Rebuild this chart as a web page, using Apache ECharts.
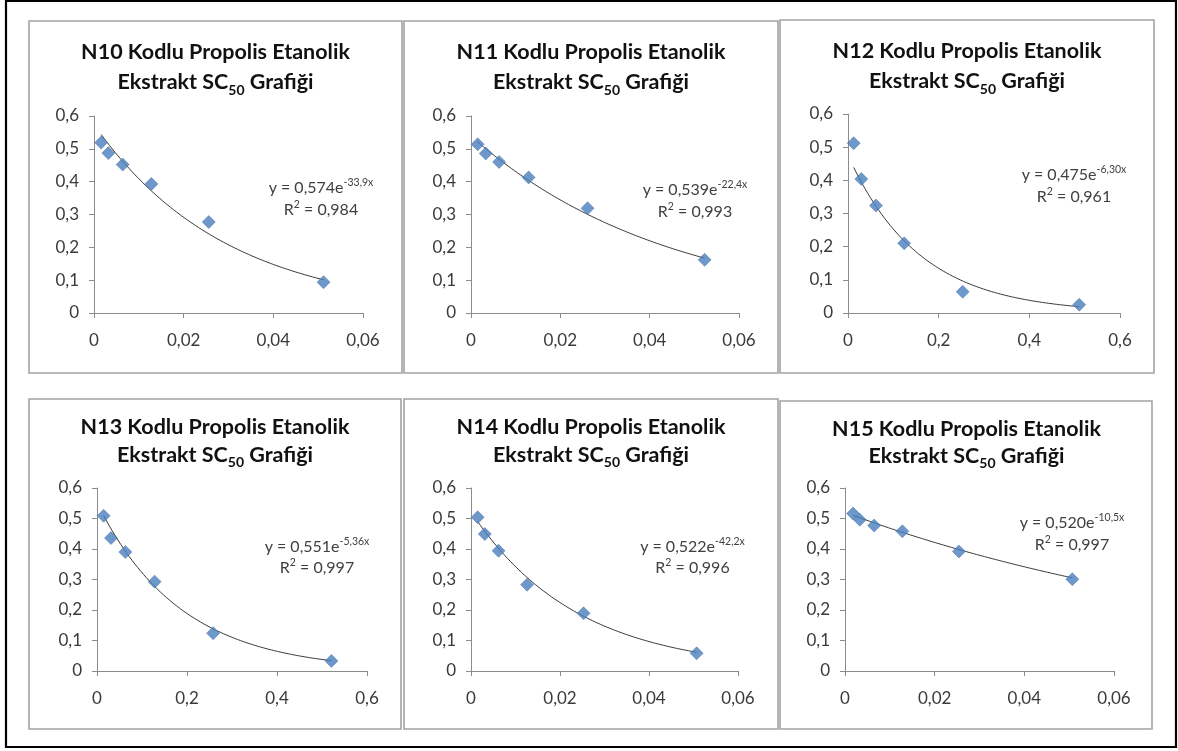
<!DOCTYPE html>
<html>
<head>
<meta charset="utf-8">
<script src="https://cdn.jsdelivr.net/npm/echarts@6/dist/echarts.min.js"></script>
<style>
html,body{margin:0;padding:0;background:#fff;}
#c{width:1178px;height:751px;}
</style>
</head>
<body>
<div id="c"></div>
<script>
// ---- data ----
const panelCodes = ['N10', 'N11', 'N12', 'N13', 'N14', 'N15'];
const xN10 = [0.0016, 0.0032, 0.0064, 0.0128, 0.0256, 0.0512];
const yN10 = [0.519, 0.487, 0.452, 0.393, 0.277, 0.094];
const xN11 = [0.0015, 0.0033, 0.0063, 0.0129, 0.0261, 0.0523];
const yN11 = [0.514, 0.486, 0.460, 0.413, 0.319, 0.162];
const xN12 = [0.0125, 0.0294, 0.0617, 0.124, 0.253, 0.51];
const yN12 = [0.512, 0.404, 0.324, 0.210, 0.064, 0.025];
const xN13 = [0.0148, 0.0311, 0.063, 0.128, 0.258, 0.521];
const yN13 = [0.509, 0.436, 0.390, 0.293, 0.124, 0.033];
const xN14 = [0.0015, 0.0031, 0.0062, 0.0126, 0.0253, 0.0507];
const yN14 = [0.504, 0.449, 0.394, 0.283, 0.189, 0.058];
const xN15 = [0.0018, 0.0033, 0.0065, 0.0128, 0.0254, 0.0507];
const yN15 = [0.516, 0.496, 0.477, 0.458, 0.392, 0.301];

// exponential trendline coefficients (y = a * e^(b x)) shown on the chart
const trendA = [0.574, 0.539, 0.475, 0.551, 0.522, 0.520];
const trendB = [-33.9, -22.4, -6.30, -5.36, -42.2, -10.5];
const eqA = ['0,574', '0,539', '0,475', '0,551', '0,522', '0,520'];
const eqB = ['-33,9x', '-22,4x', '-6,30x', '-5,36x', '-42,2x', '-10,5x'];
const r2Text = ['0,984', '0,993', '0,961', '0,997', '0,996', '0,997'];

const xMax = [0.06, 0.06, 0.6, 0.6, 0.06, 0.06];
const xInterval = [0.02, 0.02, 0.2, 0.2, 0.02, 0.02];
const xDecimals = [2, 2, 1, 1, 2, 2];
const yMax = 0.6, yInterval = 0.1;

const xs = [xN10, xN11, xN12, xN13, xN14, xN15];
const ys = [yN10, yN11, yN12, yN13, yN14, yN15];

// ---- layout (pixels) ----
const panels = [
  {x: 29, y: 21, w: 373, h: 352},
  {x: 404, y: 21, w: 374, h: 352},
  {x: 780, y: 20, w: 374, h: 353},
  {x: 29, y: 399, w: 372, h: 330},
  {x: 404, y: 399, w: 374, h: 330},
  {x: 780, y: 401, w: 372, h: 328}
];
const grids = [
  {l: 94, r: 363, t: 116, b: 313},
  {l: 471, r: 739, t: 116, b: 313},
  {l: 848, r: 1120, t: 114, b: 313},
  {l: 97, r: 367, t: 488, b: 671},
  {l: 471, r: 738, t: 488, b: 671},
  {l: 845, r: 1114, t: 488, b: 671}
];
const titlePos = [
  {x: 215.5, t: 37, lh: 30},
  {x: 591, t: 37, lh: 30},
  {x: 967, t: 36, lh: 30},
  {x: 215, t: 412.5, lh: 28.5},
  {x: 591, t: 412.5, lh: 28.5},
  {x: 966.5, t: 416, lh: 27}
];
const eqPos = [
  {x: 321, t: 177, lh: 22},
  {x: 695, t: 179, lh: 22},
  {x: 1074, t: 164, lh: 22},
  {x: 317, t: 536, lh: 21},
  {x: 692.5, t: 536, lh: 21},
  {x: 1072, t: 512, lh: 22}
];

const W = 1178, H = 751;
const FONT = 'Lato, "Open Sans", sans-serif';

const fmt = (d) => (v) => v === 0 ? '0' : v.toFixed(d).replace('.', ',');

const option = {
  animation: false,
  backgroundColor: '#ffffff',
  title: [],
  grid: [],
  xAxis: [],
  yAxis: [],
  series: [],
  graphic: []
};

// outer frame
option.graphic.push({
  type: 'rect', shape: {x: 6, y: 1, width: 1170, height: 746},
  style: {fill: null, stroke: '#000', lineWidth: 2.2}, silent: true, z: 0
});

panels.forEach((p, i) => {
  option.graphic.push({
    type: 'rect', shape: {x: p.x, y: p.y, width: p.w, height: p.h},
    style: {fill: null, stroke: '#a3a3a3', lineWidth: 1.6}, silent: true, z: 0
  });

  const tp = titlePos[i];
  option.title.push({
    text: '{b|' + panelCodes[i] + ' Kodlu Propolis Etanolik}\n{b|Ekstrakt SC}{s|50}{b| Grafiği}',
    left: tp.x, top: tp.t, textAlign: 'center', padding: 0,
    textStyle: {
      rich: {
        b: {fontFamily: FONT, fontWeight: 'bold', fontSize: 21.5, lineHeight: tp.lh, color: '#111'},
        s: {fontFamily: FONT, fontWeight: 'bold', fontSize: 14, lineHeight: 14, verticalAlign: 'bottom', color: '#111'}
      }
    }
  });

  const ep = eqPos[i];
  option.title.push({
    text: '{t|y = ' + eqA[i] + 'e}{sup|' + eqB[i] + '}\n{t|R}{sup|2}{t| = ' + r2Text[i] + '}',
    left: ep.x, top: ep.t, textAlign: 'center', padding: 0,
    textStyle: {
      fontWeight: 'normal',
      rich: {
        t: {fontFamily: FONT, fontWeight: 'normal', fontSize: 16, lineHeight: ep.lh, color: '#404040'},
        sup: {fontFamily: FONT, fontWeight: 'normal', fontSize: 10.5, lineHeight: 12, verticalAlign: 'top', color: '#404040'}
      }
    }
  });

  const g = grids[i];
  option.grid.push({left: g.l, top: g.t, width: g.r - g.l, height: g.b - g.t, containLabel: false});

  option.xAxis.push({
    type: 'value', gridIndex: i, min: 0, max: xMax[i], interval: xInterval[i],
    axisLine: {show: true, onZero: false, lineStyle: {color: '#8c8c8c', width: 1}},
    axisTick: {show: true, length: 5, lineStyle: {color: '#8c8c8c'}},
    splitLine: {show: false},
    axisLabel: {formatter: fmt(xDecimals[i]), fontFamily: FONT, fontSize: 17, color: '#3a3a3a', margin: 19}
  });
  option.yAxis.push({
    type: 'value', gridIndex: i, min: 0, max: yMax, interval: yInterval,
    axisLine: {show: true, onZero: false, lineStyle: {color: '#8c8c8c', width: 1}},
    axisTick: {show: true, length: 5, lineStyle: {color: '#8c8c8c'}},
    splitLine: {show: false},
    axisLabel: {formatter: fmt(1), fontFamily: FONT, fontSize: 17, color: '#3a3a3a', margin: 15}
  });

  // trendline from the displayed fit y = a*e^(b x), over the data x-range
  const x0 = xs[i][0], x1 = xs[i][xs[i].length - 1];
  const curve = [];
  const n = 80;
  for (let k = 0; k <= n; k++) {
    const xv = x0 + (x1 - x0) * k / n;
    curve.push([xv, trendA[i] * Math.exp(trendB[i] * xv)]);
  }
  option.series.push({
    type: 'line', xAxisIndex: i, yAxisIndex: i, data: curve,
    showSymbol: false, symbol: 'none', smooth: false,
    lineStyle: {color: '#3a3a3a', width: 1}, z: 2, silent: true
  });
  option.series.push({
    type: 'scatter', xAxisIndex: i, yAxisIndex: i,
    data: xs[i].map((xv, k) => [xv, ys[i][k]]),
    symbol: 'diamond', symbolSize: 13,
    itemStyle: {color: '#4a7ebb', borderColor: '#3f6fa8', borderWidth: 0.6},
    z: 3
  });
});

const chart = echarts.init(document.getElementById('c'), null, {renderer: 'canvas', width: W, height: H});
chart.setOption(option);
</script>
</body>
</html>
